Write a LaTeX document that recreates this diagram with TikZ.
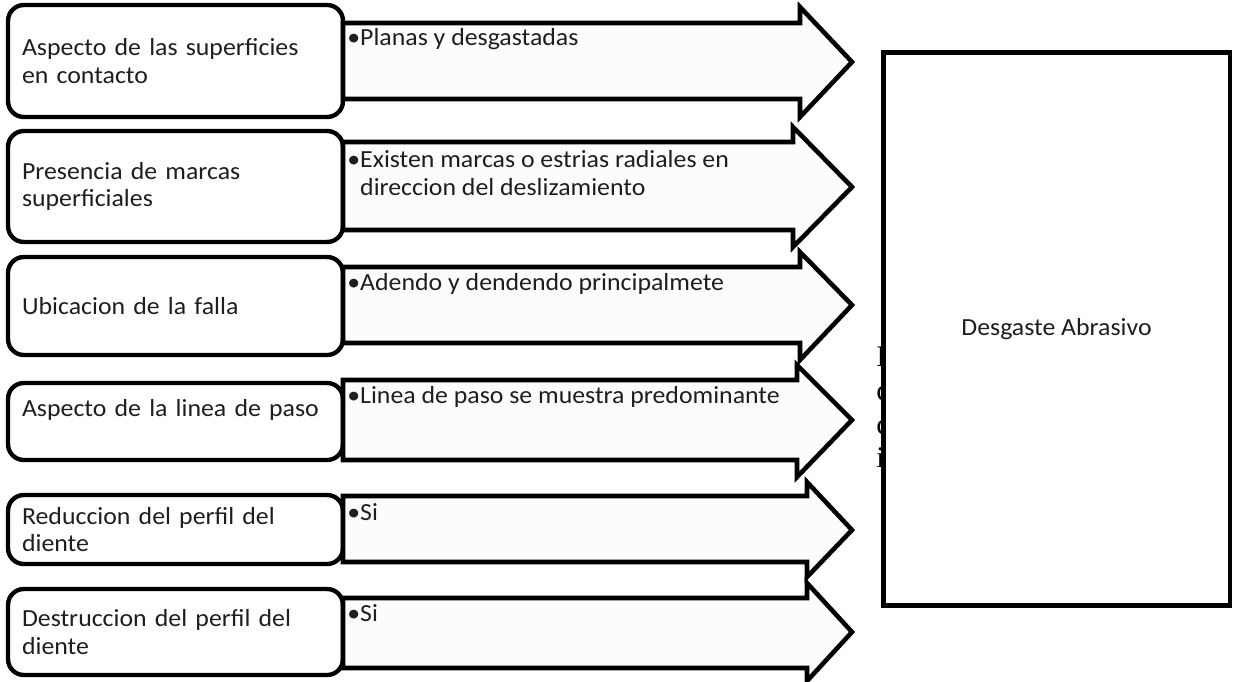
\documentclass[tikz,border=0pt]{standalone}
\usepackage{fontspec}
\setmainfont{Carlito}[FakeStretch=1.05]
\newfontfamily\serifcut{Liberation Serif}
\usepackage{xcolor}
\definecolor{inkGray}{HTML}{1E1E1E}
\definecolor{arrowFill}{HTML}{FCFCFC}

\begin{document}
\begin{tikzpicture}[
  x=0.02cm, y=-0.02cm,
  font=\fontsize{14}{15.6}\selectfont,
  crit/.style={draw, line width=2.5pt, rounded corners=9pt, fill=white, align=left,
    text width=6.14cm, inner xsep=0.28cm, inner ysep=0pt, minimum width=6.7cm, text=inkGray},
  flow/.style={draw, line width=2.6pt, fill=arrowFill, line join=miter},
  note/.style={inner sep=0pt, align=left, anchor=base west, text=inkGray},
]
\useasboundingbox (0,0) rectangle (1233,682);
% criteria on the left
\node[crit, minimum height=2.24cm] (crit1) at (175.5,61) {Aspecto de las superficies\\en contacto};
\node[crit, minimum height=2.22cm] (crit2) at (175.5,186.5) {Presencia de marcas\\superficiales};
\node[crit, minimum height=1.96cm] (crit3) at (175.5,306) {Ubicacion de la falla};
\node[crit, minimum height=1.54cm] (crit4) at (175.5,421.5) {Aspecto de la linea de paso\\\mbox{}};
\node[crit, minimum height=1.38cm] (crit5) at (175.5,529.5) {Reduccion del perfil del\\diente};
\node[crit, minimum height=1.72cm] (crit6) at (175.5,632) {Destruccion del perfil del\\diente};
% arrows with the observations
\draw[flow] (343,23) -- (800,23) -- (800,7) -- (852,62) -- (800,117) -- (800,99) -- (343,99) -- cycle;
\draw[flow] (343,142) -- (793,142) -- (793,127) -- (852,187) -- (793,247) -- (793,230) -- (343,230) -- cycle;
\draw[flow] (343,267) -- (800,267) -- (800,252) -- (852,305) -- (800,360) -- (800,343) -- (343,343) -- cycle;
\draw[flow] (343,380) -- (797,380) -- (797,365) -- (852,420) -- (797,477) -- (797,460) -- (343,460) -- cycle;
\draw[flow] (343,496) -- (807,496) -- (807,482) -- (852,530) -- (807,577) -- (807,562) -- (343,562) -- cycle;
\draw[flow] (343,598) -- (807,598) -- (807,583) -- (852,632) -- (807,681) -- (807,668) -- (343,668) -- cycle;
\node[note] (obs1) at (347,46) {•Planas y desgastadas};
\node[note] (obs2) at (347,195) {•Existen marcas o estrias radiales en\\\phantom{•}direccion del deslizamiento};
\node[note] (obs3) at (347,290) {•Adendo y dendendo principalmete};
\node[note] (obs4) at (347,403) {•Linea de paso se muestra predominante};
\node[note] (obs5) at (347,520) {•Si};
\node[note] (obs6) at (347,621) {•Si};
% text hidden behind the result box
\node[font=\serifcut\fontsize{17}{19.1}\selectfont, anchor=north west, inner sep=0pt, align=left]
  (hidden) at (876,347) {I\\c\\c\\i};
% result
\node[draw, line width=2.8pt, fill=white, minimum width=6.94cm, minimum height=11.08cm, text=inkGray]
  (result) at (1056.5,329) {Desgaste Abrasivo};
\end{tikzpicture}
\end{document}
